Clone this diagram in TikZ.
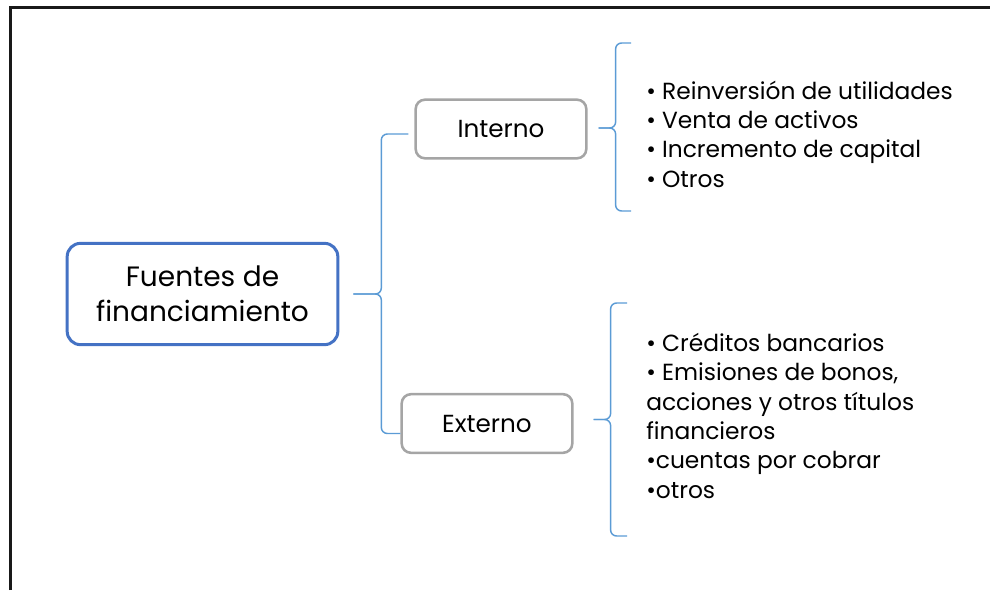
\documentclass[tikz,border=0pt]{standalone}
\usepackage{fontspec}
\setmainfont{Poppins}
\usepackage{xcolor}
\usetikzlibrary{calc}
\definecolor{boxblue}{HTML}{4472C4}
\definecolor{boxgray}{HTML}{A5A5A5}
\definecolor{braceblue}{HTML}{5B9BD5}
\tikzset{mainbox/.style={draw=boxblue, line width=2.25pt, rounded corners=10pt,
    minimum width=203pt, minimum height=76pt, align=center,
    font=\fontsize{21}{26}\selectfont}}
\tikzset{subbox/.style={draw=boxgray, line width=1.9pt, rounded corners=7pt,
    minimum width=128pt, minimum height=44pt, font=\fontsize{18.5}{22}\selectfont}}
\tikzset{itemlist/.style={align=left, inner sep=0pt, anchor=base west,
    font=\fontsize{17.5}{22}\selectfont}}
\tikzset{bracket/.style={draw=braceblue, line width=1.1pt, rounded corners=4.5pt}}

\begin{document}
\begin{tikzpicture}[x=0.75pt, y=-0.75pt]
      \useasboundingbox (0,0) rectangle (990,590);
      % frame
      \draw[line width=2.2pt, black!90] (10.5,590) -- (10.5,7.5) -- (990,7.5);

      \node[mainbox] (main) at (202.5,294) {Fuentes de\\financiamiento};
      \node[subbox] (interno) at (501,129) {Interno};
      \node[subbox] (externo) at (487,423.5) {Externo};

      % lists (anchored on their last line)
      \node[itemlist] (listin) at (646,187)
        {• Reinversión de utilidades\\• Venta de activos\\• Incremento de capital\\• Otros};
      \node[itemlist] (listex) at (646,498)
        {• Créditos bancarios\\• Emisiones de bonos,\\acciones y otros títulos\\financieros\\•cuentas por cobrar\\•otros};

      % brace ends
      \coordinate (tipM) at ($(main.east)+(14,0)$);
      \coordinate (inA) at ($(interno.west)+(-6,5)$);
      \coordinate (exA) at ($(externo.west)+(0,10)$);
      \coordinate (tipI) at ($(interno.east)+(11,-1)$);
      \coordinate (inTop) at (631,43);
      \coordinate (inBot) at (631,211);
      \coordinate (tipE) at ($(externo.east)+(20,-4)$);
      \coordinate (exTop) at (627,303);
      \coordinate (exBot) at (627,536);

      \draw[bracket] (tipM) -- ++(28,0) |- (inA);
      \draw[bracket] (tipM) -- ++(28,0) |- (exA);
      \draw[bracket] (tipI) -- ++(17,0) |- (inTop);
      \draw[bracket] (tipI) -- ++(17,0) |- (inBot);
      \draw[bracket] (tipE) -- ++(17,0) |- (exTop);
      \draw[bracket] (tipE) -- ++(17,0) |- (exBot);
\end{tikzpicture}
\end{document}
